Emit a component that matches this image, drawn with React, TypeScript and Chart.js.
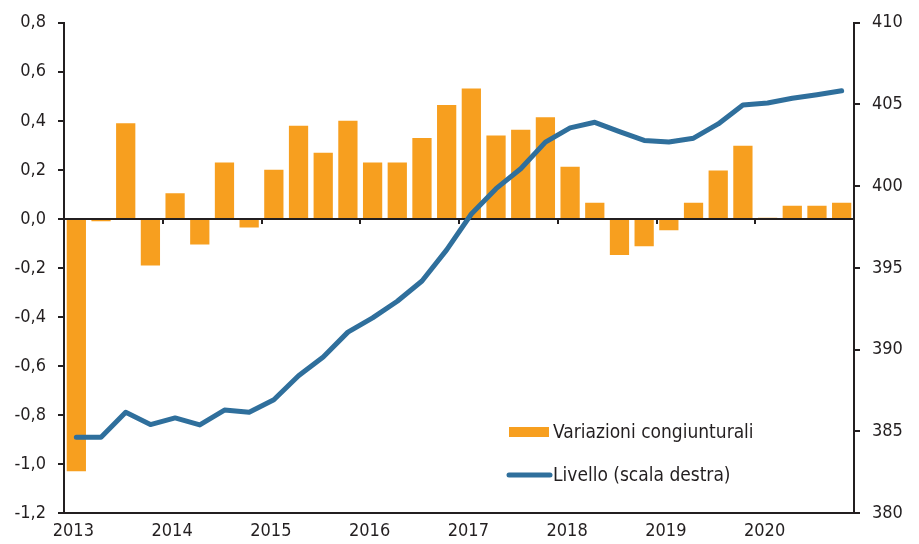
import React, { useEffect, useRef } from "react";
import { Chart, registerables } from "chart.js";

Chart.register(...registerables);

const years = ["2013", "2014", "2015", "2016", "2017", "2018", "2019", "2020"];
const quarters = ["T1", "T2", "T3", "T4"];
const categories: string[] = years.flatMap((y) => quarters.map((q) => `${q} ${y}`));

const variazioni = [
  -1.03, -0.01, 0.39, -0.19,
  0.105, -0.105, 0.23, -0.035,
  0.2, 0.38, 0.27, 0.4,
  0.23, 0.23, 0.33, 0.465,
  0.532, 0.34, 0.364, 0.415,
  0.213, 0.066, -0.147, -0.112,
  -0.046, 0.066, 0.197, 0.298,
  0.005, 0.054, 0.054, 0.066,
];

const livello = [
  384.64, 384.64, 386.16, 385.41,
  385.82, 385.39, 386.3, 386.16,
  386.93, 388.4, 389.55, 391.07,
  391.94, 392.96, 394.2, 396.1,
  398.3, 399.85, 401.07, 402.7,
  403.57, 403.91, 403.34, 402.8,
  402.7, 402.94, 403.81, 404.97,
  405.09, 405.38, 405.6, 405.84,
];

const leftTicks = { min: -1.2, max: 0.8, step: 0.2 };
const rightTicks = { min: 380, max: 410, step: 5 };

const seriesNames = ["Variazioni congiunturali", "Livello (scala destra)"];

const ORANGE = "#F79F1F";
const BLUE = "#2F6F9C";
const INK = "#231F20";
const FONT = '"Liberation Sans Narrow", "DejaVu Sans Condensed", "Roboto Condensed", sans-serif';

const zeroLinePlugin = {
  id: "zeroLine",
  afterDatasetDraw(chart: any, args: any) {
    if (args.index !== 0) return;
    const { ctx, chartArea, scales } = chart;
    const y = scales.y.getPixelForValue(0);
    ctx.save();
    ctx.strokeStyle = INK;
    ctx.lineWidth = 2;
    ctx.beginPath();
    ctx.moveTo(chartArea.left, y);
    ctx.lineTo(chartArea.right, y);
    for (let i = 4; i < categories.length; i += 4) {
      const x = Math.round(scales.x.getPixelForValue(i - 0.5));
      ctx.moveTo(x, y);
      ctx.lineTo(x, y + 5);
    }
    ctx.stroke();
    ctx.restore();
  },
};

const legendPlugin = {
  id: "customLegend",
  afterDraw(chart: any) {
    const { ctx } = chart;
    ctx.save();
    ctx.font = `19px ${FONT}`;
    ctx.fillStyle = INK;
    ctx.textBaseline = "middle";
    ctx.textAlign = "left";
    // bar entry
    ctx.fillStyle = ORANGE;
    ctx.fillRect(509, 427, 40, 10);
    ctx.fillStyle = INK;
    ctx.fillText(seriesNames[0], 553, 433);
    // line entry
    ctx.strokeStyle = BLUE;
    ctx.lineWidth = 5;
    ctx.lineCap = "round";
    ctx.beginPath();
    ctx.moveTo(509, 475);
    ctx.lineTo(550, 475);
    ctx.stroke();
    ctx.fillText(seriesNames[1], 553, 476);
    ctx.restore();
  },
};

export default function App() {
  const ref = useRef<HTMLCanvasElement | null>(null);

  useEffect(() => {
    document.body.style.margin = "0";
    const canvas = ref.current;
    if (!canvas) return;
    const chart = new Chart(canvas, {
      type: "bar",
      data: {
        labels: categories,
        datasets: [
          {
            type: "bar",
            label: seriesNames[0],
            data: variazioni,
            backgroundColor: ORANGE,
            borderWidth: 0,
            barPercentage: 0.78,
            categoryPercentage: 1,
            yAxisID: "y",
            order: 1,
          },
          {
            type: "line",
            label: seriesNames[1],
            data: livello,
            borderColor: BLUE,
            backgroundColor: BLUE,
            borderWidth: 5,
            pointRadius: 0,
            tension: 0,
            borderCapStyle: "round",
            borderJoinStyle: "round",
            yAxisID: "y1",
            order: 0,
          } as any,
        ],
      },
      options: {
        animation: false,
        responsive: false,
        maintainAspectRatio: false,
        layout: { padding: { top: 20, left: 0, right: 0, bottom: 0 } },
        plugins: {
          legend: { display: false },
          tooltip: { enabled: false },
        },
        scales: {
          x: {
            type: "category",
            grid: { display: true, drawOnChartArea: false, drawTicks: false, color: "transparent" },
            border: { display: true, color: INK, width: 2 },
            ticks: {
              autoSkip: false,
              maxRotation: 0,
              padding: 8,
              labelOffset: -3,
              color: INK,
              font: { family: FONT, size: 18 },
              callback: (_v: any, i: number) => (i % 4 === 0 ? years[i / 4] : ""),
            },
            afterFit: (s: any) => {
              s.height = 31;
            },
          },
          y: {
            position: "left",
            min: leftTicks.min,
            max: leftTicks.max,
            grid: { drawOnChartArea: false, drawTicks: true, tickLength: 6, color: INK, lineWidth: 2 },
            border: { display: true, color: INK, width: 2 },
            ticks: {
              stepSize: leftTicks.step,
              padding: 12,
              color: INK,
              font: { family: FONT, size: 18 },
              callback: (v: any) => Number(v).toFixed(1).replace(".", ","),
            },
            afterFit: (s: any) => {
              s.width = 64;
            },
          },
          y1: {
            position: "right",
            min: rightTicks.min,
            max: rightTicks.max,
            grid: { drawOnChartArea: false, drawTicks: true, tickLength: 6, color: INK, lineWidth: 2 },
            border: { display: true, color: INK, width: 2 },
            ticks: {
              stepSize: rightTicks.step,
              padding: 12,
              color: INK,
              font: { family: FONT, size: 18 },
              callback: (v: any) => String(v),
            },
            afterFit: (s: any) => {
              s.width = 65;
            },
          },
        },
      },
      plugins: [zeroLinePlugin, legendPlugin],
    });
    return () => chart.destroy();
  }, []);

  return (
    <div style={{ width: 919, height: 544, position: "relative", background: "#fff" }}>
      <canvas ref={ref} width={919} height={544} style={{ display: "block" }} />
    </div>
  );
}
